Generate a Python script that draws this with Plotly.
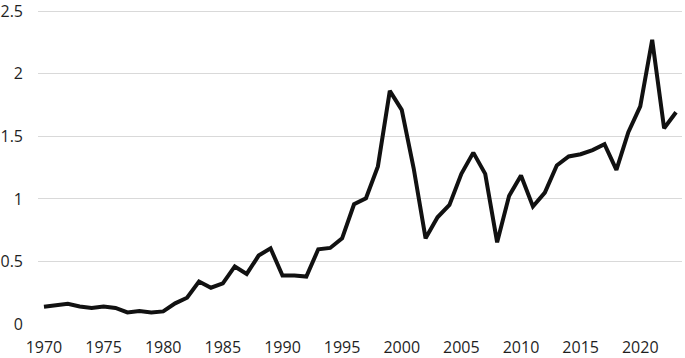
import plotly.graph_objects as go

years = list(range(1970, 2024))
values = [
    0.138, 0.154, 0.162, 0.140, 0.128, 0.140, 0.128, 0.093, 0.104, 0.093,
    0.101, 0.165, 0.210, 0.340, 0.290, 0.325, 0.460, 0.400, 0.547, 0.605,
    0.387, 0.387, 0.379, 0.597, 0.608, 0.685, 0.957, 1.005, 1.260, 1.864,
    1.712, 1.245, 0.685, 0.853, 0.952, 1.200, 1.370, 1.200, 0.653, 1.024,
    1.187, 0.939, 1.050, 1.267, 1.339, 1.357, 1.390, 1.437, 1.232, 1.533,
    1.739, 2.272, 1.565, 1.693,
]
x_ticks = list(range(1970, 2021, 5))
y_ticks = [0, 0.5, 1, 1.5, 2, 2.5]
y_labels = ["0", "0.5", "1", "1.5", "2", "2.5"]

# figure is drawn 12px taller and the page is pulled up by 12px,
# so the top tick label has room inside the plotly div
pad = 12

fig = go.Figure()
fig.add_trace(go.Scatter(
    x=years, y=values, mode="lines",
    line=dict(color="#111111", width=4),
    showlegend=False,
))

fig.update_layout(
    width=685, height=358 + pad,
    margin=dict(l=38, r=3, t=5 + pad, b=34),
    plot_bgcolor="white", paper_bgcolor="white",
    font=dict(family="Open Sans", size=16, color="#1f1f1f"),
)
fig.update_xaxes(
    range=[1969.5, 2023.5],
    tickvals=x_ticks, ticktext=[str(t) for t in x_ticks],
    showgrid=False, zeroline=False, showline=False,
    ticks="", ticklabelstandoff=12, automargin=False,
)
fig.update_yaxes(
    range=[0, 2.55],
    tickvals=y_ticks, ticktext=y_labels,
    showgrid=True, gridcolor="#d9d9d9", gridwidth=1,
    zeroline=False, showline=False, ticks="",
    ticklabelstandoff=14, automargin=False,
)

fig.write_html(
    "out.html", config={"displayModeBar": False},
    post_script="document.body.style.margin='0';"
                "document.body.style.marginTop='-%dpx';"
                "document.body.style.overflow='hidden';" % pad,
)
